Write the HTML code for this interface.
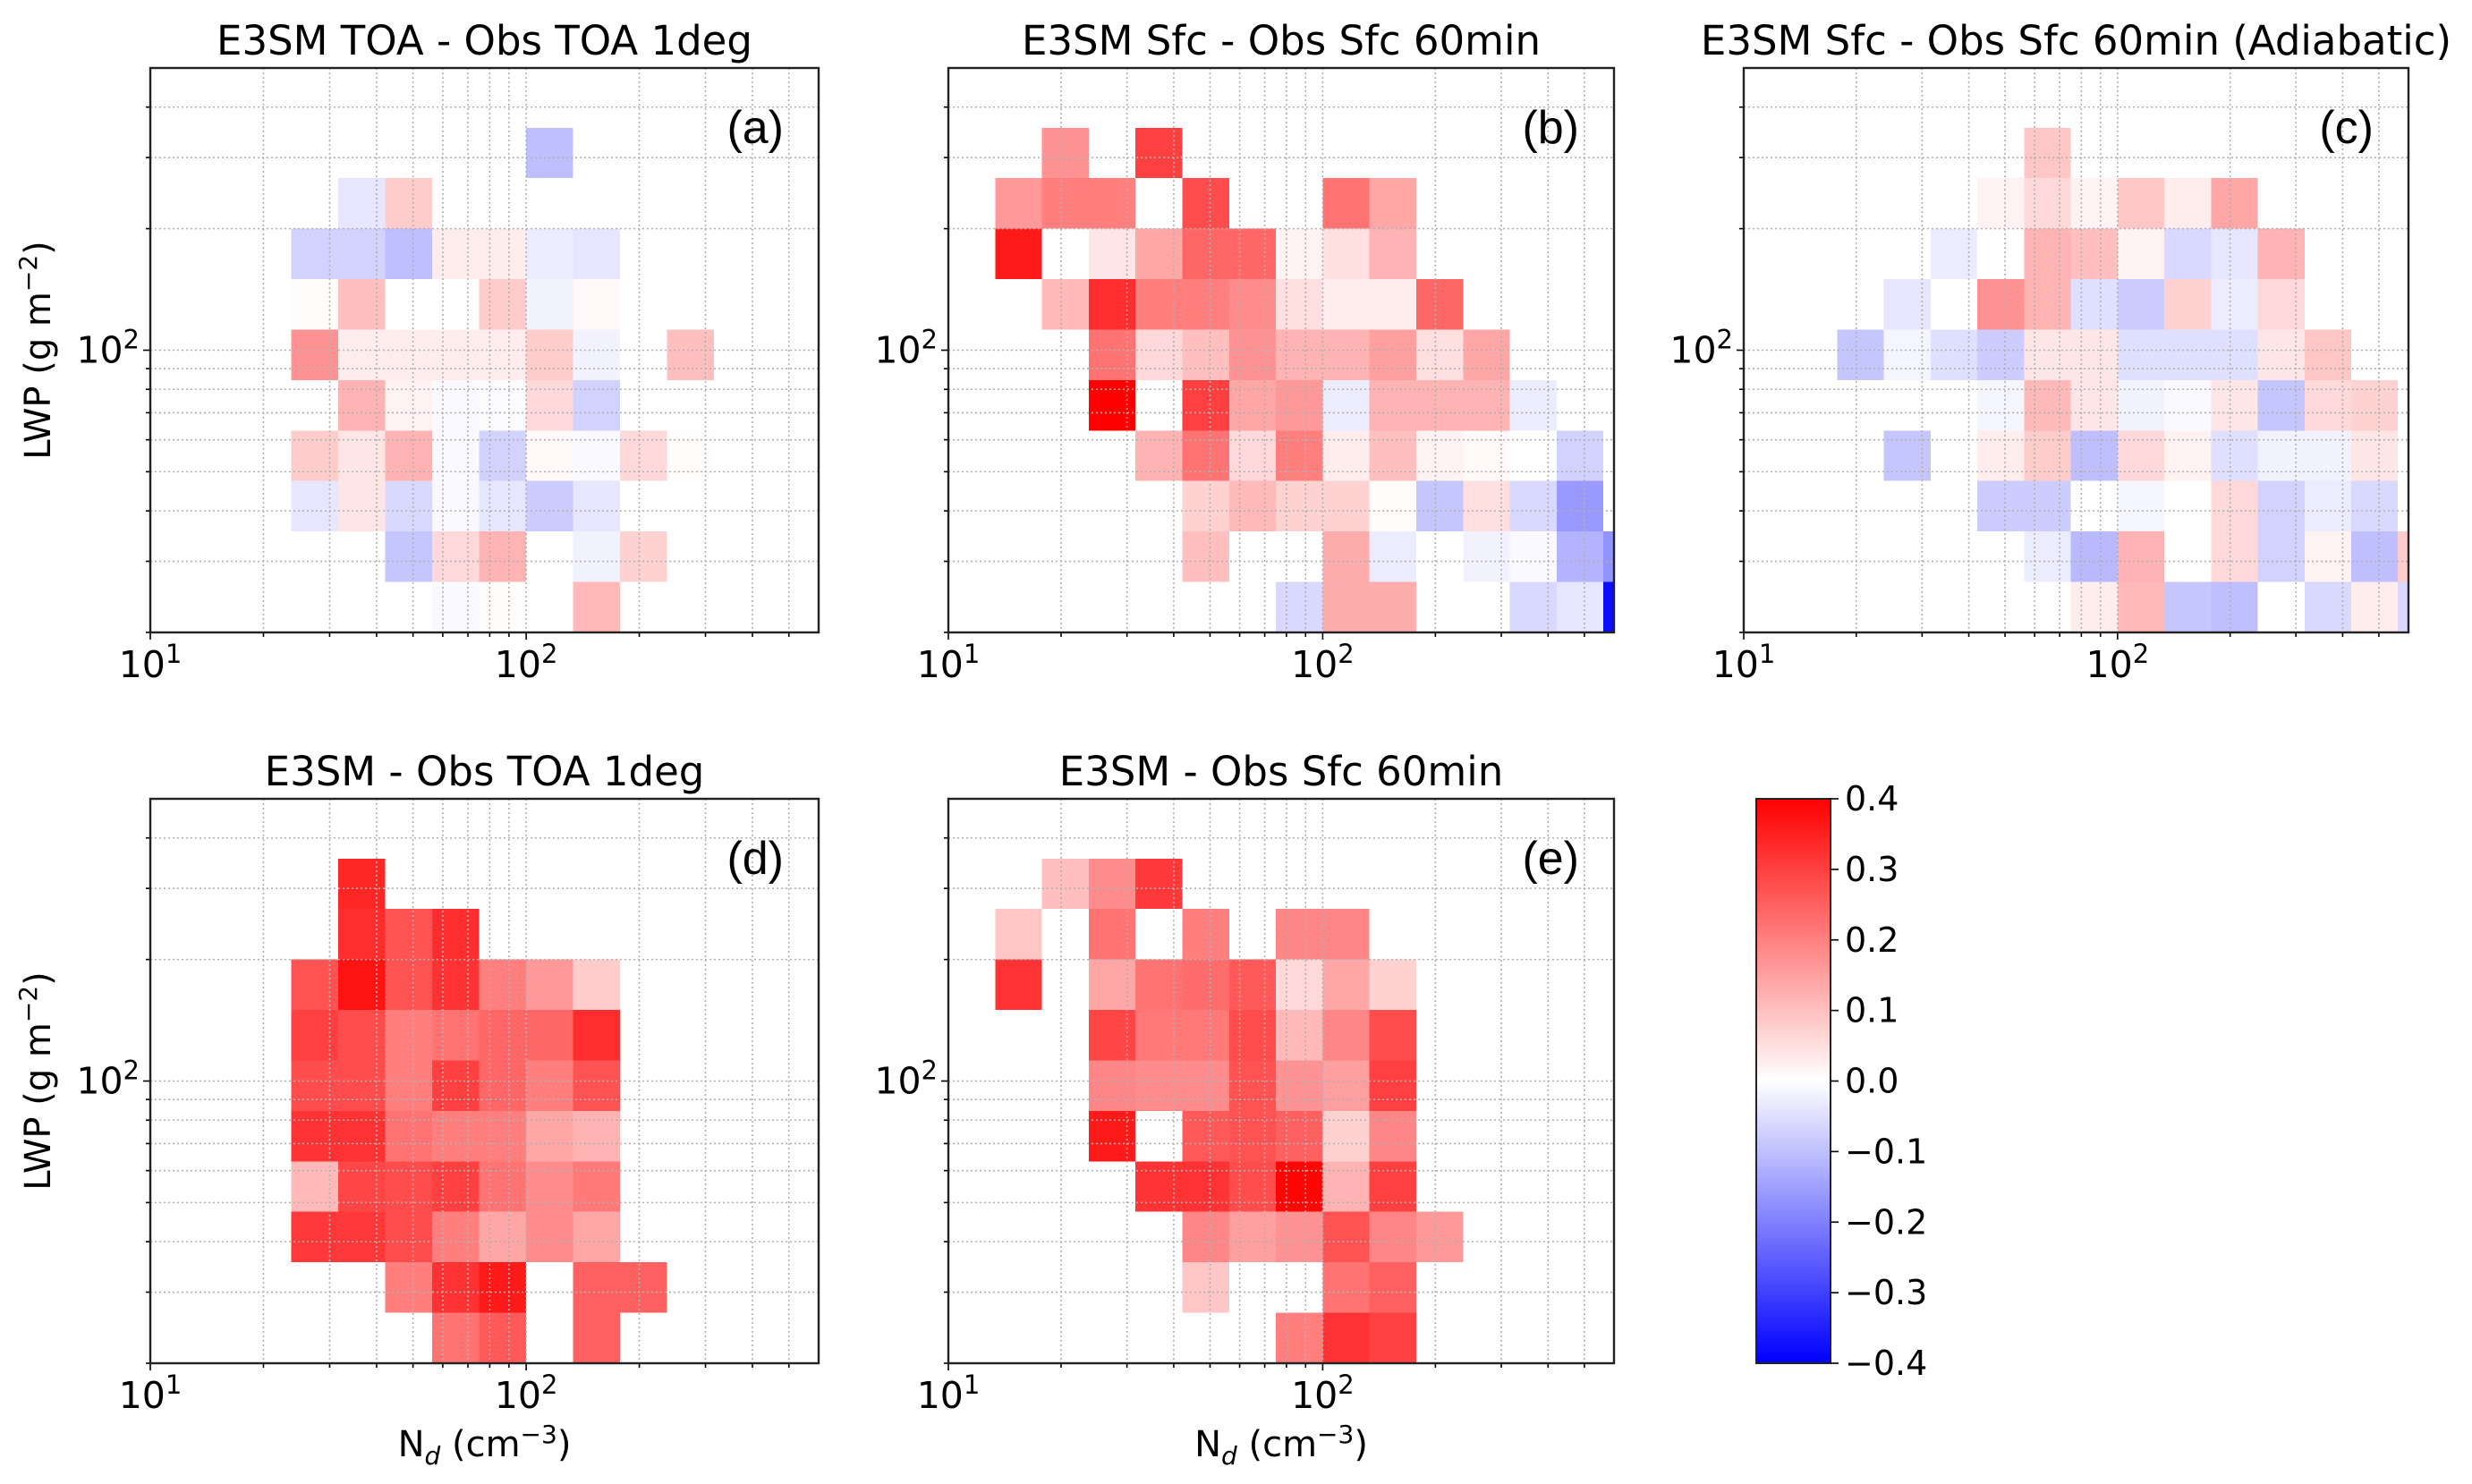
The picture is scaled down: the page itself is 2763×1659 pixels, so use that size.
<!DOCTYPE html>
<html><head><meta charset="utf-8"><style>
html,body{margin:0;padding:0;background:#fff;}
svg{display:block;font-family:"DejaVu Sans","Liberation Sans",sans-serif;}
</style></head><body>
<svg id="fig" width="2763" height="1659" viewBox="0 0 2763 1659" xmlns="http://www.w3.org/2000/svg"></svg>
<script>
// ---- data: [column index (bin edges 10^(c/8)), row index (edges 20*10^(r/8)), value] ----
const cellsA = [[16,9,-0.1],[12,8,-0.04],[13,8,0.08],
[11,7,-0.07],[12,7,-0.07],[13,7,-0.1],[14,7,0.03],[15,7,0.03],[16,7,-0.03],[17,7,-0.04],
[11,6,0.005],[12,6,0.1],[15,6,0.08],[16,6,-0.02],[17,6,0.01],
[11,5,0.17],[12,5,0.03],[13,5,0.03],[14,5,0.03],[15,5,0.03],[16,5,0.08],[17,5,-0.02],[19,5,0.1],
[12,4,0.12],[13,4,0.02],[14,4,-0.01],[15,4,-0.005],[16,4,0.06],[17,4,-0.07],
[11,3,0.08],[12,3,0.04],[13,3,0.12],[14,3,-0.01],[15,3,-0.07],[16,3,0.01],[17,3,-0.01],[18,3,0.06],[19,3,0.005],
[11,2,-0.04],[12,2,0.04],[13,2,-0.06],[14,2,-0.01],[15,2,-0.04],[16,2,-0.08],[17,2,-0.04],
[13,1,-0.09],[14,1,0.06],[15,1,0.12],[17,1,-0.02],[18,1,0.07],
[14,0,-0.01],[15,0,0.005],[17,0,0.11]];
const cellsB = [[10,9,0.17],[12,9,0.3],
[9,8,0.16],[10,8,0.2],[11,8,0.2],[13,8,0.28],[16,8,0.22],[17,8,0.14],
[9,7,0.36],[11,7,0.04],[12,7,0.14],[13,7,0.24],[14,7,0.24],[15,7,0.02],[16,7,0.05],[17,7,0.12],
[10,6,0.11],[11,6,0.33],[12,6,0.2],[13,6,0.2],[14,6,0.18],[15,6,0.05],[16,6,0.03],[17,6,0.03],[18,6,0.24],
[11,5,0.22],[12,5,0.06],[13,5,0.1],[14,5,0.17],[15,5,0.12],[16,5,0.12],[17,5,0.15],[18,5,0.05],[19,5,0.14],
[11,4,0.4],[13,4,0.3],[14,4,0.14],[15,4,0.16],[16,4,-0.03],[17,4,0.12],[18,4,0.12],[19,4,0.12],[20,4,-0.03],
[12,3,0.12],[13,3,0.22],[14,3,0.06],[15,3,0.2],[16,3,0.03],[17,3,0.1],[18,3,0.02],[19,3,0.01],[20,3,0.0],[21,3,-0.07],
[13,2,0.07],[14,2,0.11],[15,2,0.07],[16,2,0.07],[17,2,0.005],[18,2,-0.09],[19,2,0.05],[20,2,-0.06],[21,2,-0.16],
[13,1,0.1],[16,1,0.13],[17,1,-0.03],[19,1,-0.02],[20,1,-0.01],[21,1,-0.12],[22,1,-0.17],
[15,0,-0.06],[16,0,0.13],[17,0,0.13],[20,0,-0.06],[21,0,-0.04],[22,0,-0.38]];
const cellsC = [[14,9,0.09],
[13,8,0.02],[14,8,0.06],[15,8,0.02],[16,8,0.09],[17,8,0.03],[18,8,0.14],
[12,7,-0.03],[14,7,0.12],[15,7,0.1],[16,7,0.02],[17,7,-0.06],[18,7,-0.04],[19,7,0.12],
[11,6,-0.04],[13,6,0.17],[14,6,0.12],[15,6,-0.05],[16,6,-0.08],[17,6,0.07],[18,6,-0.03],[19,6,0.06],
[10,5,-0.09],[11,5,-0.015],[12,5,-0.05],[13,5,-0.08],[14,5,0.04],[15,5,0.04],[16,5,-0.05],[17,5,-0.05],[18,5,-0.05],[19,5,0.04],[20,5,0.09],
[13,4,-0.015],[14,4,0.11],[15,4,0.04],[16,4,-0.02],[17,4,-0.01],[18,4,0.04],[19,4,-0.09],[20,4,0.06],[21,4,0.07],
[11,3,-0.09],[13,3,0.03],[14,3,0.08],[15,3,-0.1],[16,3,0.06],[17,3,0.02],[18,3,-0.05],[19,3,-0.02],[20,3,-0.02],[21,3,0.04],
[13,2,-0.08],[14,2,-0.08],[15,2,0.0],[16,2,-0.015],[18,2,0.06],[19,2,-0.07],[20,2,-0.03],[21,2,-0.06],
[14,1,-0.03],[15,1,-0.11],[16,1,0.12],[18,1,0.06],[19,1,-0.07],[20,1,0.02],[21,1,-0.1],[22,1,0.08],
[15,0,0.03],[16,0,0.11],[17,0,-0.09],[18,0,-0.1],[20,0,-0.06],[21,0,0.03],[22,0,-0.06]];
const cellsD = [[12,9,0.34],
[12,8,0.33],[13,8,0.27],[14,8,0.33],
[11,7,0.27],[12,7,0.37],[13,7,0.27],[14,7,0.32],[15,7,0.2],[16,7,0.16],[17,7,0.08],
[11,6,0.3],[12,6,0.28],[13,6,0.2],[14,6,0.22],[15,6,0.24],[16,6,0.24],[17,6,0.33],
[11,5,0.28],[12,5,0.28],[13,5,0.2],[14,5,0.3],[15,5,0.24],[16,5,0.2],[17,5,0.27],
[11,4,0.32],[12,4,0.32],[13,4,0.22],[14,4,0.2],[15,4,0.2],[16,4,0.14],[17,4,0.12],
[11,3,0.11],[12,3,0.29],[13,3,0.28],[14,3,0.3],[15,3,0.22],[16,3,0.18],[17,3,0.21],
[11,2,0.31],[12,2,0.31],[13,2,0.28],[14,2,0.2],[15,2,0.14],[16,2,0.18],[17,2,0.14],
[13,1,0.2],[14,1,0.32],[15,1,0.36],[17,1,0.25],[18,1,0.25],
[14,0,0.22],[15,0,0.26],[17,0,0.25]];
const cellsE = [[10,9,0.1],[11,9,0.18],[12,9,0.31],
[9,8,0.09],[11,8,0.22],[13,8,0.2],[15,8,0.19],[16,8,0.19],
[9,7,0.32],[11,7,0.14],[12,7,0.22],[13,7,0.23],[14,7,0.26],[15,7,0.06],[16,7,0.14],[17,7,0.07],
[11,6,0.29],[12,6,0.21],[13,6,0.21],[14,6,0.28],[15,6,0.11],[16,6,0.19],[17,6,0.28],
[11,5,0.19],[12,5,0.18],[13,5,0.18],[14,5,0.27],[15,5,0.17],[16,5,0.15],[17,5,0.3],
[11,4,0.36],[13,4,0.26],[14,4,0.27],[15,4,0.25],[16,4,0.07],[17,4,0.19],
[12,3,0.32],[13,3,0.32],[14,3,0.28],[15,3,0.39],[16,3,0.12],[17,3,0.3],
[13,2,0.19],[14,2,0.15],[15,2,0.17],[16,2,0.27],[17,2,0.19],[18,2,0.16],
[13,1,0.09],[16,1,0.22],[17,1,0.25],
[15,0,0.2],[16,0,0.32],[17,0,0.3]];
const panelTitles = ["E3SM TOA - Obs TOA 1deg","E3SM Sfc - Obs Sfc 60min","E3SM Sfc - Obs Sfc 60min (Adiabatic)","E3SM - Obs TOA 1deg","E3SM - Obs Sfc 60min"];
const panelLetters = ["(a)","(b)","(c)","(d)","(e)"];
const cbTicks = [0.4,0.3,0.2,0.1,0.0,-0.1,-0.2,-0.3,-0.4];
const xMinor = [20,30,40,50,60,70,80,90,200,300,400,500];
const yMinor = [20,30,40,50,60,70,80,90,200,300,400];

const NS = "http://www.w3.org/2000/svg";
const svg = document.getElementById('fig');
function mk(tag, attrs, parent){
  const e = document.createElementNS(NS, tag);
  for (const k in attrs) e.setAttribute(k, attrs[k]);
  (parent||svg).appendChild(e); return e;
}
function bwr(v){
  let t = (v + 0.4) / 0.8; t = Math.max(0, Math.min(1, t));
  let r, g, b;
  if (t < 0.5){ r = 2*t; g = 2*t; b = 1; } else { r = 1; g = 2*(1-t); b = 2*(1-t); }
  return `rgb(${Math.round(r*255)},${Math.round(g*255)},${Math.round(b*255)})`;
}
const XMIN = 10, XMAX = 600, YMIN = 20, YMAX = 500;
const layouts = [
  {x0:168,x1:915,y0:76,y1:707,cells:cellsA,ylab:true,xlab:false},
  {x0:1060,x1:1804,y0:76,y1:707,cells:cellsB,ylab:false,xlab:false},
  {x0:1949,x1:2692,y0:76,y1:707,cells:cellsC,ylab:false,xlab:false},
  {x0:168,x1:915,y0:893,y1:1524,cells:cellsD,ylab:true,xlab:true},
  {x0:1060,x1:1804,y0:893,y1:1524,cells:cellsE,ylab:false,xlab:true}
];
layouts.forEach((L, i) => {
  const g = mk('g', {});
  
  
  const xs = v => L.x0 + (Math.log10(v) - Math.log10(XMIN)) / (Math.log10(XMAX) - Math.log10(XMIN)) * (L.x1 - L.x0);
  const ys = v => L.y1 - (Math.log10(v) - Math.log10(YMIN)) / (Math.log10(YMAX) - Math.log10(YMIN)) * (L.y1 - L.y0);
  L.cells.forEach(([c, r, v]) => {
    const xa = Math.max(L.x0, xs(Math.pow(10, c/8))), xb = Math.min(L.x1, xs(Math.pow(10, (c+1)/8)));
    const ya = Math.max(L.y0, ys(YMIN*Math.pow(10, (r+1)/8))), yb = Math.min(L.y1, ys(YMIN*Math.pow(10, r/8)));
    const rect = mk('rect', {x:xa, y:ya, width:xb-xa, height:yb-ya, fill:bwr(v), 'shape-rendering':'crispEdges'}, g);
    
    
  });
  const grid = [...xMinor.map(v=>['x',v]), ['x',100], ...yMinor.map(v=>['y',v]), ['y',100]];
  grid.forEach(([ax, v]) => {
    if (ax === 'x'){ const X = xs(v); mk('line',{x1:X,x2:X,y1:L.y0,y2:L.y1,stroke:'#b0b0b0','stroke-width':1.6,'stroke-dasharray':'2 3'},g);
      mk('line',{x1:X,x2:X,y1:L.y1,y2:L.y1+(v===100?8:5),stroke:'#000','stroke-width':1.6},g); }
    else { const Y = ys(v); mk('line',{x1:L.x0,x2:L.x1,y1:Y,y2:Y,stroke:'#b0b0b0','stroke-width':1.6,'stroke-dasharray':'2 3'},g);
      mk('line',{x1:L.x0-(v===100?8:5),x2:L.x0,y1:Y,y2:Y,stroke:'#000','stroke-width':1.6},g); }
  });
  mk('line',{x1:L.x0,x2:L.x0,y1:L.y1,y2:L.y1+8,stroke:'#000','stroke-width':1.6},g);
  const fr = mk('rect',{x:L.x0,y:L.y0,width:L.x1-L.x0,height:L.y1-L.y0,fill:'none',stroke:'#222','stroke-width':2.4},g);
  
  
  const t = mk('text',{x:(L.x0+L.x1)/2,y:L.y0-15,'text-anchor':'middle','font-size':45,fill:'#000'},g);
  t.textContent = panelTitles[i];
  
  
  const lt = mk('text',{x:L.x1-39,y:L.y0+84,'text-anchor':'end','font-size':52,'font-family':'Liberation Sans, sans-serif',fill:'#000'},g);
  lt.textContent = panelLetters[i];
  
  
  [[10,'1'],[100,'2']].forEach(([v,e]) => {
    const tx = mk('text',{x:xs(v),y:L.y1+50,'text-anchor':'middle','font-size':41,fill:'#000'},g);
    
    
    tx.innerHTML = '10<tspan dy="-16" font-size="29">' + e + '</tspan>';
  });
  const ty = mk('text',{x:L.x0-12,y:ys(100)+14,'text-anchor':'end','font-size':41,fill:'#000'},g);
  
  
  ty.innerHTML = '10<tspan dy="-16" font-size="29">2</tspan>';
  if (L.ylab){
    const cy = (L.y0+L.y1)/2;
    const yl = mk('text',{x:0,y:0,transform:`translate(56,${cy}) rotate(-90)`,'text-anchor':'middle','font-size':40,fill:'#000'},g);
    
    
    yl.innerHTML = 'LWP (g m<tspan dy="-15" font-size="28">\u22122</tspan><tspan dy="15">)</tspan>';
  }
  if (L.xlab){
    const xl = mk('text',{x:(L.x0+L.x1)/2,y:L.y1+104,'text-anchor':'middle','font-size':40,fill:'#000'},g);
    
    
    xl.innerHTML = 'N<tspan dy="9" font-size="28" font-style="italic">d</tspan><tspan dy="-9"> (cm</tspan><tspan dy="-15" font-size="28">\u22123</tspan><tspan dy="15">)</tspan>';
  }
});
const CB = {x0:1963,x1:2046,y0:893,y1:1524};
const defs = mk('defs',{});
const lg = mk('linearGradient',{id:'cbg',x1:0,y1:1,x2:0,y2:0},defs);
for (let k=0;k<=20;k++){ const v = -0.4 + 0.8*k/20; mk('stop',{offset:(k/20),'stop-color':bwr(v)},lg); }
const cbg = mk('g',{});


mk('rect',{x:CB.x0,y:CB.y0,width:CB.x1-CB.x0,height:CB.y1-CB.y0,fill:'url(#cbg)',stroke:'#222','stroke-width':2},cbg);
const cby = v => CB.y1 - (v + 0.4) / 0.8 * (CB.y1 - CB.y0);
cbTicks.forEach(v => {
  const Y = cby(v);
  mk('line',{x1:CB.x1,x2:CB.x1+9,y1:Y,y2:Y,stroke:'#000','stroke-width':1.6},cbg);
  const tt = mk('text',{x:CB.x1+16,y:Y+13,'font-size':38,fill:'#000'},cbg);
  
  
  tt.textContent = (v < 0 ? '\u2212' : '') + Math.abs(v).toFixed(1);
});
</script>
</body></html>
